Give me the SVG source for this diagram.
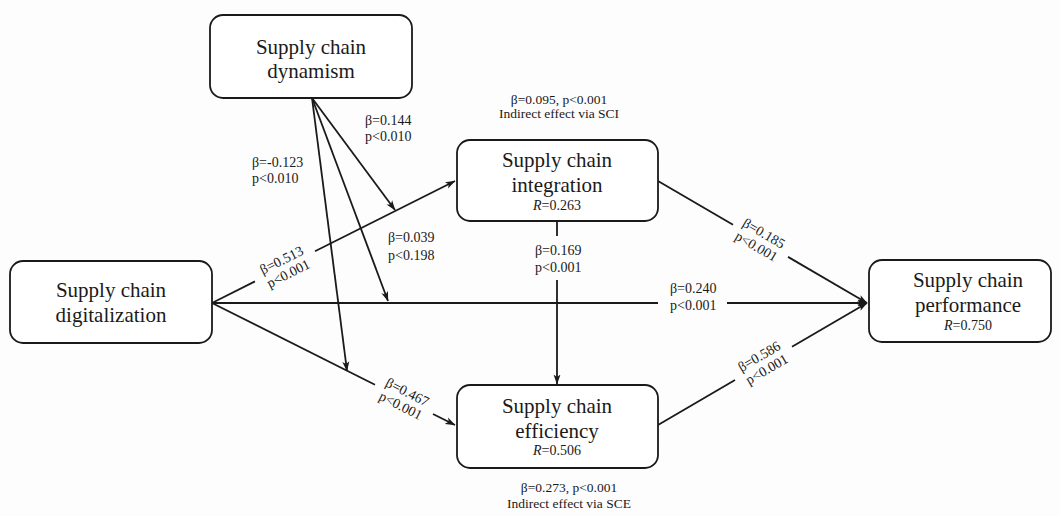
<svg xmlns="http://www.w3.org/2000/svg" width="1060" height="516" viewBox="0 0 1060 516">
  <style>
    .box { fill: #ffffff; stroke: #1a1a1a; stroke-width: 1.8; }
    .lbl { font-family: "Liberation Serif", "Times New Roman", serif; fill: #1a1a1a; }
    .node { font-size: 21px; text-anchor: middle; }
    .r2 { font-size: 14px; text-anchor: middle; }
    .edge { font-size: 14px; }
    .mid { text-anchor: middle; }
    .note { font-size: 13.5px; text-anchor: middle; }
    .wire { stroke: #1a1a1a; stroke-width: 1.8; fill: none; }
  </style>
  <defs>
    <marker id="arrow" viewBox="0 0 10 8" refX="9.5" refY="4" markerWidth="10" markerHeight="8" markerUnits="userSpaceOnUse" orient="auto">
      <path d="M0,0.5 L10,4 L0,7.5 L2.5,4 Z" fill="#1a1a1a"/>
    </marker>
  </defs>

  <rect width="1060" height="516" fill="#fdfdfd"/>

  <!-- paths between constructs -->
  <g id="connectors">
    <!-- digitalization to integration -->
    <line class="wire" x1="212" y1="303" x2="255" y2="281.4"/>
    <line class="wire" x1="315" y1="251.3" x2="455" y2="181" marker-end="url(#arrow)"/>
    <!-- digitalization to efficiency -->
    <line class="wire" x1="212" y1="303" x2="375" y2="384.8"/>
    <line class="wire" x1="433" y1="414" x2="455" y2="425" marker-end="url(#arrow)"/>
    <!-- digitalization to performance -->
    <line class="wire" x1="212" y1="303" x2="658" y2="303"/>
    <line class="wire" x1="727" y1="303" x2="867" y2="303" marker-end="url(#arrow)"/>
    <!-- integration to performance -->
    <line class="wire" x1="658" y1="181" x2="733" y2="224.8"/>
    <line class="wire" x1="788" y1="256.9" x2="867" y2="303" marker-end="url(#arrow)"/>
    <!-- efficiency to performance -->
    <line class="wire" x1="658" y1="425" x2="735" y2="380"/>
    <line class="wire" x1="792" y1="346.7" x2="867" y2="303" marker-end="url(#arrow)"/>
    <!-- integration to efficiency -->
    <line class="wire" x1="557" y1="221" x2="557" y2="236"/>
    <line class="wire" x1="557" y1="280" x2="557" y2="384" marker-end="url(#arrow)"/>
    <!-- moderation by dynamism -->
    <line class="wire" x1="312" y1="98" x2="395" y2="210" marker-end="url(#arrow)"/>
    <line class="wire" x1="312" y1="98" x2="388" y2="301" marker-end="url(#arrow)"/>
    <line class="wire" x1="312" y1="98" x2="347" y2="371" marker-end="url(#arrow)"/>
  </g>

  <!-- coefficients -->
  <g id="coefficients" class="lbl">
    <g transform="rotate(-26.7 285 267)">
      <text class="edge mid" x="285" y="264">β=0.513</text>
      <text class="edge mid" x="285" y="279">p&lt;0.001</text>
    </g>
    <g transform="rotate(26.7 404 399)">
      <text class="edge mid" x="404" y="396">β=0.467</text>
      <text class="edge mid" x="404" y="411">p&lt;0.001</text>
    </g>
    <g transform="rotate(30.3 760 240)">
      <text class="edge mid" x="760" y="237">β=0.185</text>
      <text class="edge mid" x="760" y="252">p&lt;0.001</text>
    </g>
    <g transform="rotate(-30.3 763 363)">
      <text class="edge mid" x="763" y="360">β=0.586</text>
      <text class="edge mid" x="763" y="375">p&lt;0.001</text>
    </g>
    <text class="edge" x="365" y="125">β=0.144</text>
    <text class="edge" x="365" y="141">p&lt;0.010</text>
    <text class="edge" x="252" y="167">β=-0.123</text>
    <text class="edge" x="252" y="183">p&lt;0.010</text>
    <text class="edge" x="388" y="242">β=0.039</text>
    <text class="edge" x="388" y="260">p&lt;0.198</text>
    <text class="edge" x="535" y="255">β=0.169</text>
    <text class="edge" x="535" y="272">p&lt;0.001</text>
    <text class="edge" x="670" y="293">β=0.240</text>
    <text class="edge" x="670" y="310">p&lt;0.001</text>
    <text class="note" x="559" y="104">β=0.095, p&lt;0.001</text>
    <text class="note" x="559" y="118">Indirect effect via SCI</text>
    <text class="note" x="569" y="492">β=0.273, p&lt;0.001</text>
    <text class="note" x="569" y="508">Indirect effect via SCE</text>
  </g>

  <!-- constructs -->
  <g id="dynamism">
    <rect class="box" x="210" y="15" width="202" height="83" rx="13"/>
    <text class="lbl node" x="311" y="54">Supply chain</text>
    <text class="lbl node" x="311" y="78">dynamism</text>
  </g>
  <g id="digitalization">
    <rect class="box" x="10" y="261" width="202" height="82" rx="13"/>
    <text class="lbl node" x="111" y="297">Supply chain</text>
    <text class="lbl node" x="111" y="322">digitalization</text>
  </g>
  <g id="integration">
    <rect class="box" x="457" y="140" width="201" height="81" rx="13"/>
    <text class="lbl node" x="557" y="167">Supply chain</text>
    <text class="lbl node" x="557" y="192">integration</text>
    <text class="lbl r2" x="557" y="210"><tspan font-style="italic">R</tspan>=0.263</text>
  </g>
  <g id="efficiency">
    <rect class="box" x="457" y="385" width="201" height="83" rx="13"/>
    <text class="lbl node" x="557" y="413">Supply chain</text>
    <text class="lbl node" x="557" y="438">efficiency</text>
    <text class="lbl r2" x="557" y="455"><tspan font-style="italic">R</tspan>=0.506</text>
  </g>
  <g id="performance">
    <rect class="box" x="869" y="260" width="182" height="82" rx="13"/>
    <text class="lbl node" x="968" y="287">Supply chain</text>
    <text class="lbl node" x="968" y="312">performance</text>
    <text class="lbl r2" x="968" y="330"><tspan font-style="italic">R</tspan>=0.750</text>
  </g>
</svg>
